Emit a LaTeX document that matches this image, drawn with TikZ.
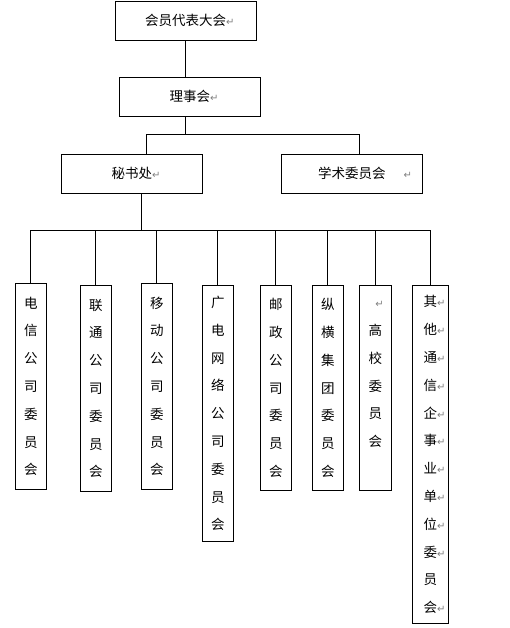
\documentclass[tikz,border=0pt]{standalone}
\usepackage{fontspec}
\newfontfamily\cjk{Noto Sans CJK SC}
\newfontfamily\symfont{DejaVu Sans}
% paragraph mark after a text, not counted for centring
\newcommand{\pmark}[1][0pt]{\rlap{\hspace{#1}\textcolor{gray}{\symfont\fontsize{10}{10}\selectfont ↵}}}

\begin{document}
\begin{tikzpicture}[x=1pt,y=-1pt,line width=0.8pt,
				box/.style={rectangle, draw=black, line width=0.8pt, inner sep=0pt, minimum width=141pt, minimum height=39pt},
				col/.style={rectangle, draw=black, line width=0.8pt, inner sep=0pt, anchor=north, minimum width=31pt, align=center, font=\cjk\fontsize{13.5}{27.8}\selectfont}]
					\tikzstyle{every node}=[font=\cjk\fontsize{13.5}{15}\selectfont, text centered]
					\useasboundingbox (0,0) rectangle (509,628);
					% upper levels
					\node[box] (top) at (185.5,20.8) {会员代表大会\pmark};
					\node[box] (council) at (189.8,96.8) {理事会\pmark};
					\node[box] (sec) at (131.8,173.8) {秘书处\pmark};
					\node[box] (acad) at (351.8,173.8) {学术委员会\pmark[18pt]};
					% committees
					\node[col, minimum height=206pt] (dx) at (30.8,283) {电\\信\\公\\司\\委\\员\\会};
					\node[col, minimum height=205.7pt] (lt) at (95.8,285.3) {联\\通\\公\\司\\委\\员\\会};
					\node[col, minimum height=206pt] (yd) at (156.8,283) {移\\动\\公\\司\\委\\员\\会};
					\node[col, minimum height=255.7pt] (gd) at (217.8,285.3) {广\\电\\网\\络\\公\\司\\委\\员\\会};
					\node[col, minimum height=204.7pt] (yz) at (275.8,285.3) {邮\\政\\公\\司\\委\\员\\会};
					\node[col, minimum height=204.7pt] (zh) at (327.8,285.3) {纵\\横\\集\\团\\委\\员\\会};
					\node[col, minimum width=32pt, minimum height=204.7pt] (gx) at (375.3,285.3) {\llap{\pmark}\\高\\校\\委\\员\\会\\ };
					\node[col, minimum width=36pt, minimum height=338pt] (qt) at (430.3,285.3) {其\pmark\\他\pmark\\通\pmark\\信\pmark\\企\pmark\\事\pmark\\业\pmark\\单\pmark\\位\pmark\\委\pmark\\员\\会\pmark};
					% connectors
					\draw (top.south) -- (top.south |- council.north);
					\draw (top.south |- council.south) -- ++(0,17.5) -| ([xshift=14.5pt]sec.north);
					\draw (top.south |- council.south) ++(0,17.5) -| ([xshift=7.5pt]acad.north);
					\draw ([xshift=9.5pt]sec.south) -- ++(0,36.7) coordinate (bus);
					\foreach \b in {dx,lt,yd,gd,yz,zh,gx,qt}
						\draw (bus) -| (\b.north);
				\end{tikzpicture}
\end{document}
